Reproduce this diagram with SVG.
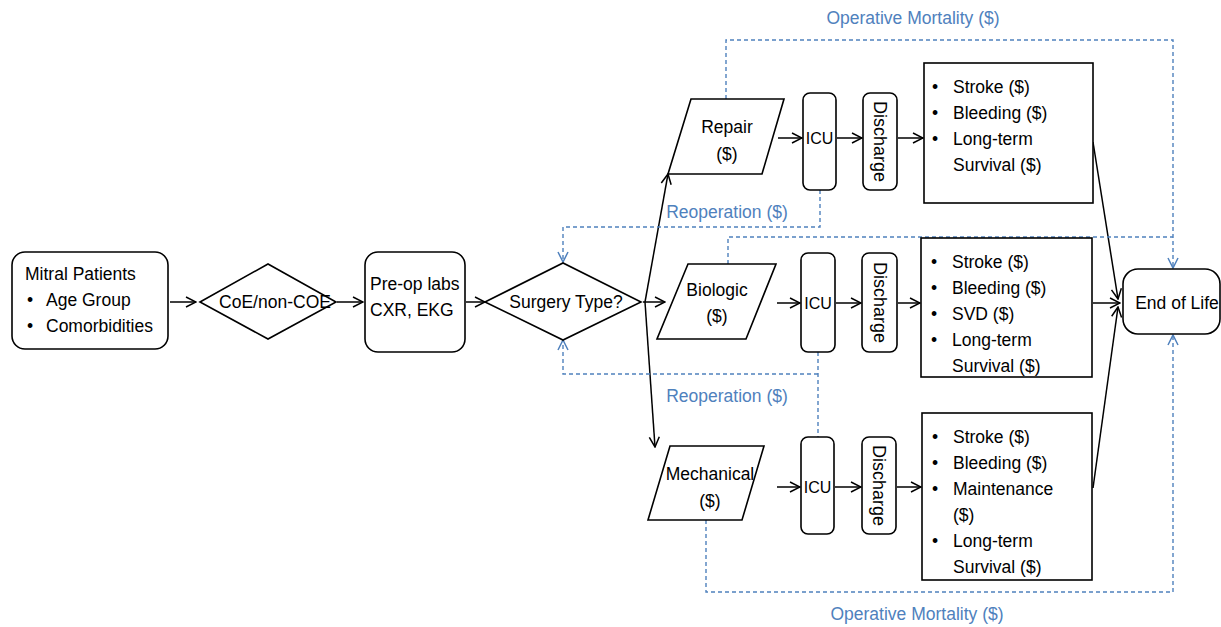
<svg xmlns="http://www.w3.org/2000/svg" width="1221" height="627" viewBox="0 0 1221 627">
<style>
text{font-family:"Liberation Sans",Arial,sans-serif;font-size:17.5px;fill:#000}
.c{text-anchor:middle}
.icu{font-size:16px}
.dis{font-size:18px}
.blue{fill:#4F81BD}
.n{fill:#fff;stroke:#000;stroke-width:1.6}
.ln{fill:none;stroke:#000;stroke-width:1.5}
.ds{fill:none;stroke:#4F81BD;stroke-width:1.4;stroke-dasharray:4,3}
</style>
<defs>
<marker id="a" viewBox="0 0 12 12" refX="11" refY="6" markerWidth="12" markerHeight="12" markerUnits="userSpaceOnUse" orient="auto">
<path d="M1,1 L11,6 L1,11" fill="none" stroke="#000" stroke-width="1.5"/>
</marker>
<marker id="b" viewBox="0 0 12 12" refX="11" refY="6" markerWidth="12" markerHeight="12" markerUnits="userSpaceOnUse" orient="auto">
<path d="M1,1 L11,6 L1,11" fill="none" stroke="#4F81BD" stroke-width="1.5"/>
</marker>
</defs>
<rect width="1221" height="627" fill="#fff"/>

<g id="connectors">
<path class="ln" marker-end="url(#a)" d="M170,302 H196"/>
<path class="ln" marker-end="url(#a)" d="M337,302 H363"/>
<path class="ln" marker-end="url(#a)" d="M466,302 H485"/>
<path class="ln" marker-end="url(#a)" d="M643,302 H665"/>
<path class="ln" marker-end="url(#a)" d="M645,302 L668,174"/>
<path class="ln" marker-end="url(#a)" d="M645,302 L655,447"/>
<path class="ln" marker-end="url(#a)" d="M778,138 H802"/>
<path class="ln" marker-end="url(#a)" d="M837,138 H862"/>
<path class="ln" marker-end="url(#a)" d="M898,138 H923"/>
<path class="ln" marker-end="url(#a)" d="M777,303 H800"/>
<path class="ln" marker-end="url(#a)" d="M836,303 H861"/>
<path class="ln" marker-end="url(#a)" d="M898,303 H920"/>
<path class="ln" marker-end="url(#a)" d="M777,487 H800"/>
<path class="ln" marker-end="url(#a)" d="M835,487 H861"/>
<path class="ln" marker-end="url(#a)" d="M897,487 H921"/>
<path class="ln" marker-end="url(#a)" d="M1093,142 L1118,299"/>
<path class="ln" marker-end="url(#a)" d="M1093,303 H1120"/>
<path class="ln" marker-end="url(#a)" d="M1093,488 L1118,307"/>
<path class="ds" marker-end="url(#b)" d="M726,99 V40 H1173 V268"/>
<path class="ds" d="M728,264 V237 H1173"/>
<path class="ds" marker-end="url(#b)" d="M706,520 V592 H1173 V335"/>
<path class="ds" marker-end="url(#b)" d="M820,190 V227 H563 V262"/>
<path class="ds" d="M818,352 V437"/>
<path class="ds" marker-end="url(#b)" d="M818,374 H563 V340"/>
<text class="c blue" x="913" y="24">Operative Mortality ($)</text>
<text class="c blue" x="727" y="218">Reoperation ($)</text>
<text class="c blue" x="727" y="402">Reoperation ($)</text>
<text class="c blue" x="917" y="620">Operative Mortality ($)</text>
</g>

<g id="mitral">
<rect class="n" x="12" y="252" width="156" height="97" rx="13"/>
<text x="25" y="280">Mitral Patients</text>
<text x="27" y="306">•</text><text x="46" y="306">Age Group</text>
<text x="27" y="332">•</text><text x="46" y="332">Comorbidities</text>
</g>

<g id="coe">
<path class="n" d="M200,302 L268,264 L336,302 L268,339 Z"/>
<text class="c" x="275" y="308">CoE/non-COE</text>
</g>

<g id="preop">
<rect class="n" x="365" y="252" width="100" height="100" rx="13"/>
<text x="370" y="290">Pre-op labs</text>
<text x="370" y="316">CXR, EKG</text>
</g>

<g id="surgery">
<path class="n" d="M485,302 L563,263 L641,302 L563,340 Z"/>
<text class="c" x="566" y="308">Surgery Type?</text>
</g>

<g id="repair">
<path class="n" d="M691,99 H784 L762,174 H668 Z"/>
<text class="c" x="727" y="133">Repair</text>
<text class="c" x="727" y="160">($)</text>
</g>

<g id="biologic">
<path class="n" d="M688,264 H776 L746,339 H657 Z"/>
<text class="c" x="717" y="296">Biologic</text>
<text class="c" x="717" y="322">($)</text>
</g>

<g id="mechanical">
<path class="n" d="M670,446 H764 L742,520 H648 Z"/>
<text class="c" x="710" y="480">Mechanical</text>
<text class="c" x="710" y="507">($)</text>
</g>

<g id="icu-top">
<rect class="n" x="803" y="93" width="33" height="97" rx="7"/>
<text class="c icu" x="819.5" y="144">ICU</text>
</g>
<g id="discharge-top">
<rect class="n" x="863" y="93" width="34" height="97" rx="7"/>
<text class="c dis" transform="translate(874,141.5) rotate(90)">Discharge</text>
</g>
<g id="outcomes-top">
<rect class="n" x="924" y="63" width="169" height="140"/>
<text x="932" y="93">•</text><text x="953" y="93">Stroke ($)</text>
<text x="932" y="119">•</text><text x="953" y="119">Bleeding ($)</text>
<text x="932" y="145">•</text><text x="953" y="145">Long-term</text>
<text x="953" y="171">Survival ($)</text>
</g>

<g id="icu-mid">
<rect class="n" x="801" y="253" width="34" height="99" rx="7"/>
<text class="c icu" x="818" y="309">ICU</text>
</g>
<g id="discharge-mid">
<rect class="n" x="862" y="253" width="35" height="99" rx="7"/>
<text class="c dis" transform="translate(873.5,302.5) rotate(90)">Discharge</text>
</g>
<g id="outcomes-mid">
<rect class="n" x="921" y="238" width="171" height="139"/>
<text x="931" y="268">•</text><text x="952" y="268">Stroke ($)</text>
<text x="931" y="294">•</text><text x="952" y="294">Bleeding ($)</text>
<text x="931" y="320">•</text><text x="952" y="320">SVD ($)</text>
<text x="931" y="346">•</text><text x="952" y="346">Long-term</text>
<text x="952" y="372">Survival ($)</text>
</g>

<g id="icu-bot">
<rect class="n" x="801" y="437" width="33" height="97" rx="7"/>
<text class="c icu" x="817.5" y="493">ICU</text>
</g>
<g id="discharge-bot">
<rect class="n" x="862" y="437" width="34" height="97" rx="7"/>
<text class="c dis" transform="translate(873,485.5) rotate(90)">Discharge</text>
</g>
<g id="outcomes-bot">
<rect class="n" x="922" y="413" width="170" height="167"/>
<text x="932" y="443">•</text><text x="953" y="443">Stroke ($)</text>
<text x="932" y="469">•</text><text x="953" y="469">Bleeding ($)</text>
<text x="932" y="495">•</text><text x="953" y="495">Maintenance</text>
<text x="953" y="521">($)</text>
<text x="932" y="547">•</text><text x="953" y="547">Long-term</text>
<text x="953" y="573">Survival ($)</text>
</g>

<g id="end">
<rect class="n" x="1123" y="269" width="97" height="65" rx="15"/>
<text class="c" x="1177" y="309">End of Life</text>
</g>
</svg>
